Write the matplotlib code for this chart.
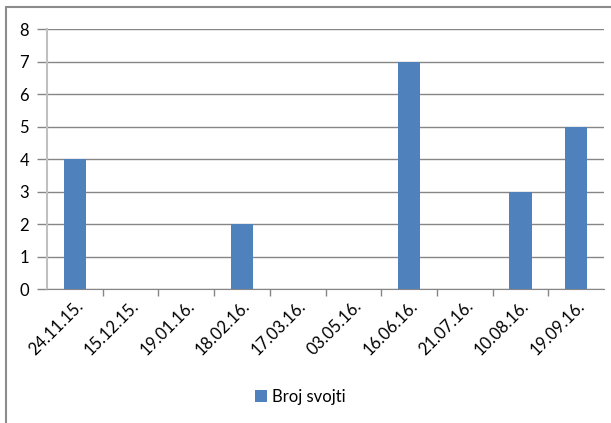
import matplotlib
matplotlib.use("Agg")
import matplotlib.pyplot as plt
from matplotlib.patches import Rectangle

dates = ["24.11.15.", "15.12.15.", "19.01.16.", "18.02.16.", "17.03.16.",
         "03.05.16.", "16.06.16.", "21.07.16.", "10.08.16.", "19.09.16."]
counts = [4, 0, 0, 2, 0, 0, 7, 0, 3, 5]
series_name = "Broj svojti"

plt.rcParams["font.family"] = ["Lato", "DejaVu Sans"]

fig = plt.figure(figsize=(6.11, 4.23), dpi=100)
ax = fig.add_axes([47 / 611, 1 - 289 / 423, 557 / 611, 260 / 423])

x = list(range(len(dates)))
ax.bar(x, counts, width=0.4, color="#4F81BD", linewidth=0,
       label=series_name, zorder=3)

ax.set_xlim(-0.5, len(dates) - 0.5)
ax.set_ylim(0, 8)
ax.set_yticks(range(0, 9))
ax.yaxis.grid(True, color="#868686", linewidth=1.0, zorder=0)
ax.tick_params(axis="y", length=7, width=1, color="#868686", labelsize=12, pad=6)

# category ticks sit between the bars
ax.set_xticks([i + 0.5 for i in x[:-1]], minor=True)
ax.set_xticks(x)
ax.set_xticklabels(dates, rotation=45, ha="right", va="top",
                   rotation_mode="anchor", fontsize=12)
ax.tick_params(axis="x", which="major", length=0, pad=6)
ax.tick_params(axis="x", which="minor", length=5, width=1, color="#868686")

for s in ("top", "right"):
    ax.spines[s].set_visible(False)
ax.spines["left"].set_color("#C0C0C0")
ax.spines["left"].set_linewidth(1.5)
ax.spines["bottom"].set_color("#868686")

fig.legend(loc="center", bbox_to_anchor=(300 / 611, 1 - 397 / 423),
           frameon=False, fontsize=12, handlelength=0.7, handleheight=0.7,
           handletextpad=0.3)

# chart frame
fig.patches.append(Rectangle((6 / 611, -0.1), 1.0, 1 - 7 / 423 + 0.1,
                             transform=fig.transFigure, fill=False,
                             edgecolor="#8C8C8C", linewidth=1.5))

fig.savefig("out.png", dpi=100)
